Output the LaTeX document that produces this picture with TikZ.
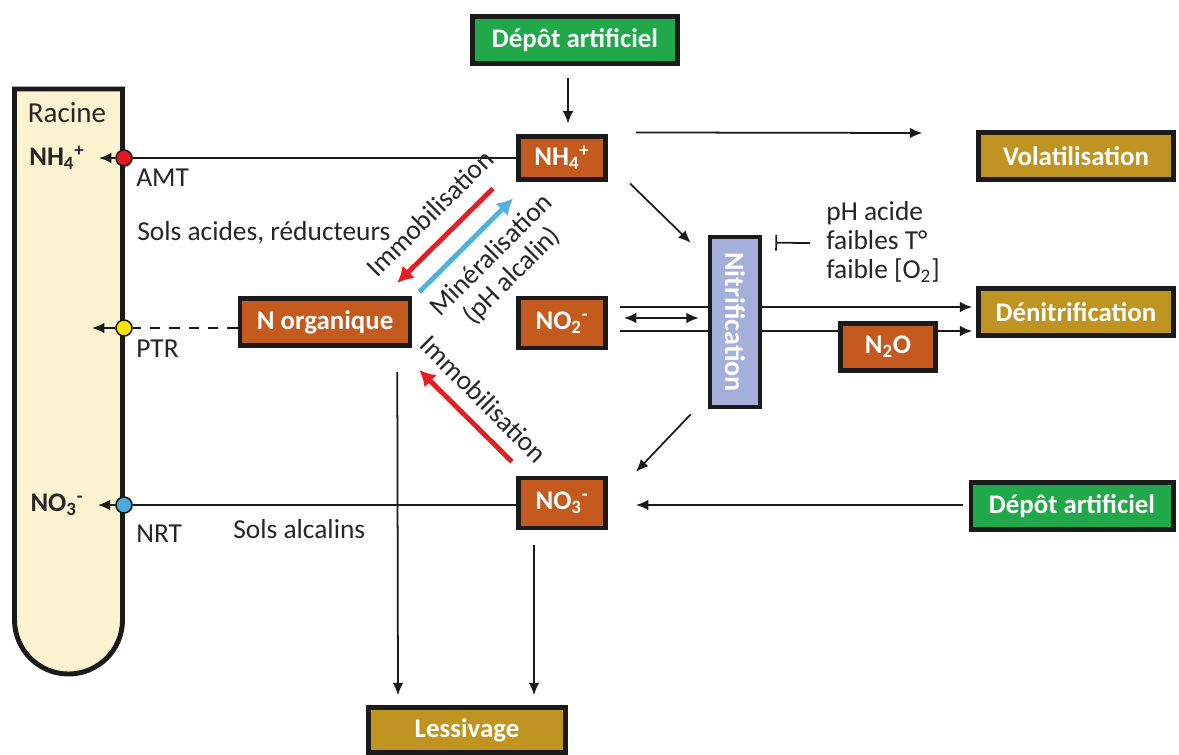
\documentclass[tikz,border=0pt]{standalone}
\usepackage{fontspec}
\setmainfont{Carlito}
\usetikzlibrary{arrows.meta,backgrounds}

\definecolor{boxline}{RGB}{26,26,26}
\definecolor{rust}{RGB}{197,90,30}
\definecolor{ochre}{RGB}{191,148,32}
\definecolor{leaf}{RGB}{32,168,74}
\definecolor{lavender}{RGB}{164,176,219}
\definecolor{cream}{RGB}{254,243,208}
\definecolor{immored}{RGB}{230,30,36}
\definecolor{minblue}{RGB}{80,176,224}
\definecolor{dotred}{RGB}{228,25,31}
\definecolor{dotyellow}{RGB}{255,230,0}
\definecolor{dotblue}{RGB}{77,168,220}

\newcommand{\ion}[3]{#1\textsubscript{#2}\textsuperscript{#3}}

\tikzset{
  txt/.style={font=\fontsize{15.6}{16.5}\selectfont, text=black!85, inner sep=0pt},
  box/.style={draw=boxline, line width=2.6pt, text=white, inner sep=0pt,
    font=\fontsize{15.3}{16.5}\selectfont\bfseries},
  pool/.style={box, fill=rust},
  sink/.style={box, fill=ochre},
  source/.style={box, fill=leaf},
  porter/.style={circle, draw=boxline, line width=0.9pt, minimum size=0.32cm, inner sep=0pt},
  arr/.style={line width=1pt, draw=boxline, -{Latex[length=7pt,width=6pt]}},
  fat/.style={line width=2.8pt, -{Latex[length=9pt,width=10pt]}}
}

\begin{document}
\begin{tikzpicture}[x=0.02cm,y=-0.02cm]
  \begin{scope}[on background layer]
    \fill[white] (0,0) rectangle (1179,754);
  \end{scope}
  \useasboundingbox (0,0) rectangle (1179,754);

  % racine
  \filldraw[fill=cream, draw=boxline, line width=2.8pt]
    (14.5,89) -- (122.5,89) -- (122.5,620)
    arc[start angle=0, end angle=-180, radius=1.08cm] -- cycle;
  \node[txt, font=\fontsize{16.5}{17}\selectfont] (racine) at (67,113) {Racine};
  \node[txt, font=\fontsize{15.3}{16.5}\selectfont\bfseries] (rnh4) at (57,158) {\ion{NH}{4}{+}};
  \node[txt, font=\fontsize{15.3}{16.5}\selectfont\bfseries] (rno3) at (57,505) {\ion{NO}{3}{-}};

  \node[porter, fill=dotred] (amt) at (124,158) {};
  \node[porter, fill=dotyellow] (ptr) at (124,328) {};
  \node[porter, fill=dotblue] (nrt) at (124,505) {};
  \coordinate (ptrend) at (92,328);

  \node[txt, anchor=west] (lamt) at (136,178) {AMT};
  \node[txt, anchor=west] (lptr) at (136,349) {PTR};
  \node[txt, anchor=west] (lnrt) at (136,534) {NRT};
  \node[txt, anchor=west] (acides) at (137,233) {Sols acides, réducteurs};
  \node[txt, anchor=west] (alcalins) at (233,529) {Sols alcalins};

  % boites
  \node[source, minimum width=4.1cm, minimum height=0.95cm] (depotA) at (575,40) {Dépôt artificiel};
  \node[pool, minimum width=1.75cm, minimum height=0.85cm] (nh4) at (562,158) {\ion{NH}{4}{+}};
  \node[pool, minimum width=3.4cm, minimum height=0.95cm] (norg) at (325,322) {N organique};
  \node[pool, minimum width=1.75cm, minimum height=1cm] (no2) at (562,323) {\ion{NO}{2}{-}};
  \node[pool, minimum width=1.75cm, minimum height=1cm] (no3) at (562,503) {\ion{NO}{3}{-}};
  \node[box, fill=lavender, minimum width=1cm, minimum height=3.4cm] (nitri) at (735,322) {};
  \node[text=white, inner sep=0pt, font=\fontsize{16}{17}\selectfont\bfseries, rotate=-90]
    (nitrilab) at (nitri.center) {Nitrification};
  \node[sink, minimum width=3.9cm, minimum height=0.95cm] (volat) at (1076,156) {Volatilisation};
  \node[sink, minimum width=3.9cm, minimum height=0.95cm] (denit) at (1076,312) {Dénitrification};
  \node[pool, minimum width=1.9cm, minimum height=0.95cm] (n2o) at (888,347) {N\textsubscript{2}O};
  \node[source, minimum width=4.05cm, minimum height=0.95cm] (depotB) at (1072,506) {Dépôt artificiel};
  \node[sink, minimum width=3.95cm, minimum height=0.9cm] (lessiv) at (467,730) {Lessivage};

  \node[txt, anchor=west, align=left] (inhib) at (826,242) {pH acide\\faibles T°\\faible [O\textsubscript{2}]};

  % lignes derriere les boites
  \begin{scope}[on background layer]
    \draw[arr] ([shift={(12,-16)}]no2.east) -- ([shift={(-4,-5)}]denit.west);
    \draw[arr] ([shift={(12,8)}]no2.east) -- ([shift={(-4,19)}]denit.west);
  \end{scope}
  \draw[line width=1pt, draw=boxline, {Latex[length=7pt,width=6pt]}-{Latex[length=7pt,width=6pt]}]
    ([shift={(16,-5)}]no2.east) -- ([shift={(-9,-4)}]nitri.west);

  % fleches
  \draw[arr] ([shift={(-7,12)}]depotA.south) -- ([shift={(6,-11)}]nh4.north);
  \draw[arr] ([shift={(28,-2)}]nh4.north east) -- ([shift={(-54,-23)}]volat.west);
  \draw[arr] ([shift={(22,2)}]nh4.south east) -- ([shift={(-17,8)}]nitri.north west);
  \draw[line width=1pt, draw=boxline, -{Bar[width=9pt]}] ([shift={(-16,1)}]inhib.west) -- ([shift={(13,8)}]nitri.north east);
  \draw[arr] ([shift={(-17,5)}]nitri.south west) -- ([shift={(28,-4)}]no3.north east);
  \draw[arr] ([shift={(-6,-1)}]depotB.west) -- ([shift={(28,2)}]no3.east);
  \draw[arr] ([shift={(-28,15)}]no3.south) -- ([shift={(67,-10)}]lessiv.north);
  \draw[arr] ([shift={(-15,24)}]norg.south east) -- ([shift={(-69,-10)}]lessiv.north);

  \draw[line width=1pt, draw=boxline] (nh4.west |- amt) -- (amt);
  \draw[line width=1pt, draw=boxline] (no3.west |- nrt) -- (nrt);
  \draw[line width=1pt, draw=boxline, dashed, dash pattern=on 6pt off 5pt] (norg.west |- ptr) -- (ptr);
  \draw[arr] (amt) -- ([xshift=8pt]rnh4.east);
  \draw[arr] (nrt) -- ([xshift=8pt]rno3.east);
  \draw[arr] (ptr) -- (ptrend);

  % immobilisation / mineralisation
  \draw[fat, immored] ([shift={(-23,7)}]nh4.south west) -- ([shift={(-15,-13)}]norg.north east);
  \draw[fat, minblue] ([shift={(7,-4)}]norg.north east) -- ([shift={(-3,17)}]nh4.south west);
  \draw[fat, immored] ([shift={(-4,-14)}]no3.north west) -- ([shift={(7,22)}]norg.south east);
  \node[txt, rotate=45] (limmo1) at (430,213) {Immobilisation};
  \node[txt, rotate=45, align=center] (lminer) at (502,266) {Minéralisation\\(pH alcalin)};
  \node[txt, rotate=-45] (limmo2) at (484,399) {Immobilisation};
\end{tikzpicture}
\end{document}
